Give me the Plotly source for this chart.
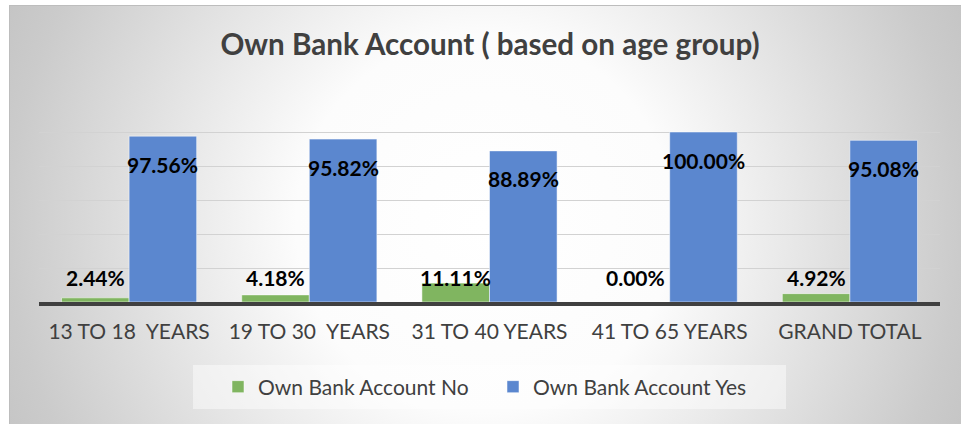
import base64
import plotly.graph_objects as go

# ---- data ----
age_groups = ["13 TO 18\u00a0 YEARS", "19 TO 30\u00a0 YEARS", "31 TO 40 YEARS",
              "41 TO 65 YEARS", "GRAND TOTAL"]
account_no = [2.44, 4.18, 11.11, 0.00, 4.92]
account_yes = [97.56, 95.82, 88.89, 100.00, 95.08]
series_names = ["Own Bank Account No", "Own Bank Account Yes"]
title_text = "Own Bank Account ( based on age group)"

W, H = 961, 424
GREEN = "#80b560"
BLUE = "#5b87cf"
TEXT_GRAY = "#404040"
FONT = "Lato"

# radial grey-to-white backdrop of the chart frame
frame_w, frame_h = W - 9, H - 5
svg = f"""<svg xmlns='http://www.w3.org/2000/svg' width='{frame_w}' height='{frame_h}'>
<defs><radialGradient id='g' gradientUnits='userSpaceOnUse' cx='{frame_w*0.5}' cy='{frame_h*0.52}' r='540'>
<stop offset='0' stop-color='#ffffff'/>
<stop offset='0.35' stop-color='#fcfcfc'/>
<stop offset='0.88' stop-color='#cbcbcb'/>
<stop offset='1' stop-color='#c3c3c3'/>
</radialGradient></defs>
<rect x='0' y='0' width='{frame_w}' height='{frame_h}' fill='url(#g)'/>
<rect x='0.5' y='0.5' width='{frame_w}' height='{frame_h}' fill='none' stroke='#bdbdbd' stroke-width='1'/>
</svg>"""
bg_uri = "data:image/svg+xml;base64," + base64.b64encode(svg.encode()).decode()

fig = go.Figure()
fig.add_trace(go.Bar(x=age_groups, y=account_no, name=series_names[0],
                     marker=dict(color=GREEN, line=dict(color="rgba(255,255,255,0.5)", width=1))))
fig.add_trace(go.Bar(x=age_groups, y=account_yes, name=series_names[1],
                     marker=dict(color=BLUE, line=dict(color="rgba(255,255,255,0.5)", width=1))))

# plot area in pixels
x_left, x_right = 39, 940
y_top, y_base = 98, 302
cat_w = (x_right - x_left) / len(age_groups)
bar_off = cat_w * 0.75 / 4  # half of one bar's width

annotations = []
for cat, v in zip(age_groups, account_no):
    annotations.append(dict(x=cat, y=0, xref="x", yref="y", text=f"<b>{v:.2f}%</b>",
                            showarrow=False, xshift=-bar_off, yshift=25, yanchor="middle",
                            font=dict(family=FONT, size=21, color="#000000")))
for cat, v in zip(age_groups, account_yes):
    annotations.append(dict(x=cat, y=v, xref="x", yref="y", text=f"<b>{v:.2f}%</b>",
                            showarrow=False, xshift=bar_off, yshift=-28, yanchor="middle",
                            font=dict(family=FONT, size=21, color="#000000")))

fig.update_layout(
    width=W, height=H,
    margin=dict(l=0, r=0, t=0, b=0),
    paper_bgcolor="#ffffff",
    plot_bgcolor="rgba(0,0,0,0)",
    barmode="group", bargap=0.25, bargroupgap=0.0,
    font=dict(family=FONT, color=TEXT_GRAY),
    title=dict(text=f"<b>{title_text}</b>", x=490 / W, xanchor="center",
               y=1 - 45 / H, yanchor="middle", yref="paper",
               font=dict(family=FONT, size=29.6, color=TEXT_GRAY)),
    xaxis=dict(domain=[x_left / W, x_right / W], automargin=False,
               showline=True, linecolor="#404040", linewidth=4, showgrid=False,
               ticks="", tickfont=dict(family=FONT, size=21, color=TEXT_GRAY),
               ticklabelstandoff=8, fixedrange=True),
    yaxis=dict(domain=[1 - y_base / H, 1 - y_top / H], range=[0, 120], dtick=20,
               showticklabels=False, showgrid=True, gridcolor="#d2d2d2", gridwidth=1.3,
               zeroline=False, automargin=False, fixedrange=True),
    legend=dict(orientation="h", x=218 / W, xanchor="left", y=1 - 387 / H, yanchor="middle",
                bgcolor="rgba(0,0,0,0)", font=dict(family=FONT, size=21, color=TEXT_GRAY),
                entrywidth=230, entrywidthmode="pixels", itemwidth=30),
    annotations=annotations,
    images=[dict(source=bg_uri, xref="paper", yref="paper", x=9 / W, y=1 - 5 / H,
                 sizex=frame_w / W, sizey=frame_h / H, xanchor="left", yanchor="top",
                 sizing="stretch", layer="below")],
    shapes=[dict(type="rect", xref="paper", yref="paper", x0=193 / W, x1=786 / W,
                 y0=1 - 409 / H, y1=1 - 365 / H, line=dict(width=0),
                 fillcolor="rgba(255,255,255,0.45)", layer="below")],
)

fig.write_html("out.html")
